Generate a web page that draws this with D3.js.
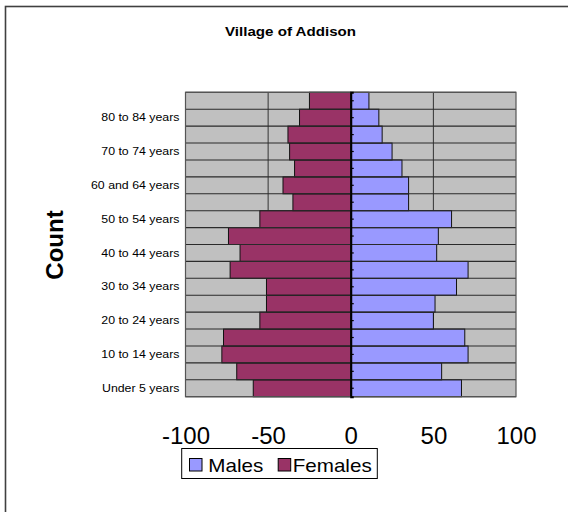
<!DOCTYPE html>
<html>
<head>
<meta charset="utf-8">
<script src="https://cdn.jsdelivr.net/npm/d3@7"></script>
<style>
  html, body { margin: 0; padding: 0; background: #fff; }
  svg { display: block; font-family: Arial, "Liberation Sans", sans-serif; }
</style>
</head>
<body>
<svg id="chart" width="568" height="512"></svg>
<script>
// Age groups, youngest first
const ages = [
  "Under 5 years", "5 to 9 years", "10 to 14 years", "15 to 19 years",
  "20 to 24 years", "25 to 29 years", "30 to 34 years", "35 to 39 years",
  "40 to 44 years", "45 to 49 years", "50 to 54 years", "55 to 59 years",
  "60 and 64 years", "65 to 69 years", "70 to 74 years", "75 to 79 years",
  "80 to 84 years", "85 years and over"
];
// Counts per age group
const males   = [67, 55, 71, 69, 50, 51, 64, 71, 52, 53, 61, 35, 35, 31, 25, 19, 17, 11];
const females = [59, 69, 78, 77, 55, 51, 51, 73, 67, 74, 55, 35, 41, 34, 37, 38, 31, 25];
// Axis ticks and labelled age groups
const xTicks = [-100, -50, 0, 50, 100];
const labelledAges = ages.filter((d, i) => i % 2 === 0);
const seriesNames = ["Males", "Females"];
const colors = { Males: "#9999FF", Females: "#993366" };

const svg = d3.select("#chart");

// Chart frame
svg.append("rect")
  .attr("x", 5.5).attr("y", 6.5)
  .attr("width", 700).attr("height", 700)
  .attr("fill", "#fff").attr("stroke", "#404040").attr("stroke-width", 1.6);

const x = d3.scaleLinear().domain([-100, 100]).range([185.5, 516]);
const y = d3.scaleBand().domain(ages.slice().reverse()).range([92.3, 396.7]).padding(0);

// Plot area
svg.append("rect")
  .attr("x", x(-100)).attr("y", y.range()[0])
  .attr("width", x(100) - x(-100)).attr("height", y.range()[1] - y.range()[0])
  .attr("fill", "#C0C0C0");

// Vertical gridlines
svg.append("g")
  .selectAll("line")
  .data([-50, 50])
  .join("line")
  .attr("x1", d => x(d)).attr("x2", d => x(d))
  .attr("y1", y.range()[0]).attr("y2", y.range()[1])
  .attr("stroke", "#333").attr("stroke-width", 1);

// Bars
const rows = ages.map((a, i) => ({ age: a, m: males[i], f: females[i] }));
svg.append("g")
  .selectAll("rect")
  .data(rows)
  .join("rect")
  .attr("x", d => x(-d.f)).attr("width", d => x(0) - x(-d.f))
  .attr("y", d => y(d.age)).attr("height", y.bandwidth())
  .attr("fill", colors.Females).attr("stroke", "#111").attr("stroke-width", 1);
svg.append("g")
  .selectAll("rect")
  .data(rows)
  .join("rect")
  .attr("x", x(0)).attr("width", d => x(d.m) - x(0))
  .attr("y", d => y(d.age)).attr("height", y.bandwidth())
  .attr("fill", colors.Males).attr("stroke", "#111").attr("stroke-width", 1);

// Horizontal row separators
const bounds = ages.map(a => y(a)).concat([y.range()[1]]);
svg.append("g")
  .selectAll("line")
  .data(bounds)
  .join("line")
  .attr("x1", x(-100)).attr("x2", x(100))
  .attr("y1", d => d).attr("y2", d => d)
  .attr("stroke", "#2a2a2a").attr("stroke-width", 1.1);

// Plot border
svg.append("rect")
  .attr("x", x(-100)).attr("y", y.range()[0])
  .attr("width", x(100) - x(-100)).attr("height", y.range()[1] - y.range()[0])
  .attr("fill", "none").attr("stroke", "#555").attr("stroke-width", 1.2);

// Category axis along zero
const yAxis = d3.axisRight(y).tickSize(3).tickFormat("");
const gy = svg.append("g").attr("transform", `translate(${x(0)},0)`).call(yAxis);
gy.select(".domain").attr("stroke", "#000").attr("stroke-width", 2);
gy.selectAll(".tick line").attr("stroke", "#000").attr("stroke-width", 1.2);

// Age labels on the left
svg.append("g")
  .selectAll("g")
  .data(labelledAges)
  .join("g")
  .attr("transform", d => `translate(179.5,${y(d) + y.bandwidth() / 2 + 3.7}) scale(1.2,1)`)
  .append("text")
  .attr("text-anchor", "end")
  .attr("font-size", 10.3)
  .attr("fill", "#000")
  .text(d => d);

// Value axis labels
const xAxis = d3.axisBottom(x).tickValues(xTicks).tickSize(0).tickFormat(d => String(d));
const gx = svg.append("g").attr("transform", "translate(0,420)").call(xAxis);
gx.select(".domain").remove();
gx.selectAll(".tick text")
  .attr("font-size", 24)
  .attr("font-family", "Arial, 'Liberation Sans', sans-serif")
  .attr("fill", "#000")
  .attr("dy", 0).attr("y", 24);

// Title
svg.append("text")
  .attr("x", 225).attr("y", 35.7)
  .attr("font-size", 12.6).attr("font-weight", "bold")
  .attr("textLength", 131).attr("lengthAdjust", "spacingAndGlyphs")
  .text("Village of Addison");

// Vertical axis title
svg.append("text")
  .attr("transform", "translate(63.3,245) rotate(-90)")
  .attr("text-anchor", "middle")
  .attr("font-size", 24).attr("font-weight", "bold")
  .text("Count");

// Legend
const legend = svg.append("g");
legend.append("rect")
  .attr("x", 181.7).attr("y", 448.5).attr("width", 195.6).attr("height", 30)
  .attr("fill", "#fff").attr("stroke", "#000").attr("stroke-width", 1);
const legendPos = { Males: { sx: 189, tx: 208.3, tl: 55 }, Females: { sx: 277.7, tx: 292.7, tl: 79 } };
seriesNames.forEach(name => {
  const p = legendPos[name];
  legend.append("rect")
    .attr("x", p.sx + 0.5).attr("y", 458.5).attr("width", 12.5).attr("height", 12.5)
    .attr("fill", colors[name]).attr("stroke", "#000").attr("stroke-width", 1);
  legend.append("text")
    .attr("x", p.tx).attr("y", 471.5)
    .attr("font-size", 19)
    .attr("textLength", p.tl).attr("lengthAdjust", "spacingAndGlyphs")
    .text(name);
});
</script>
</body>
</html>
